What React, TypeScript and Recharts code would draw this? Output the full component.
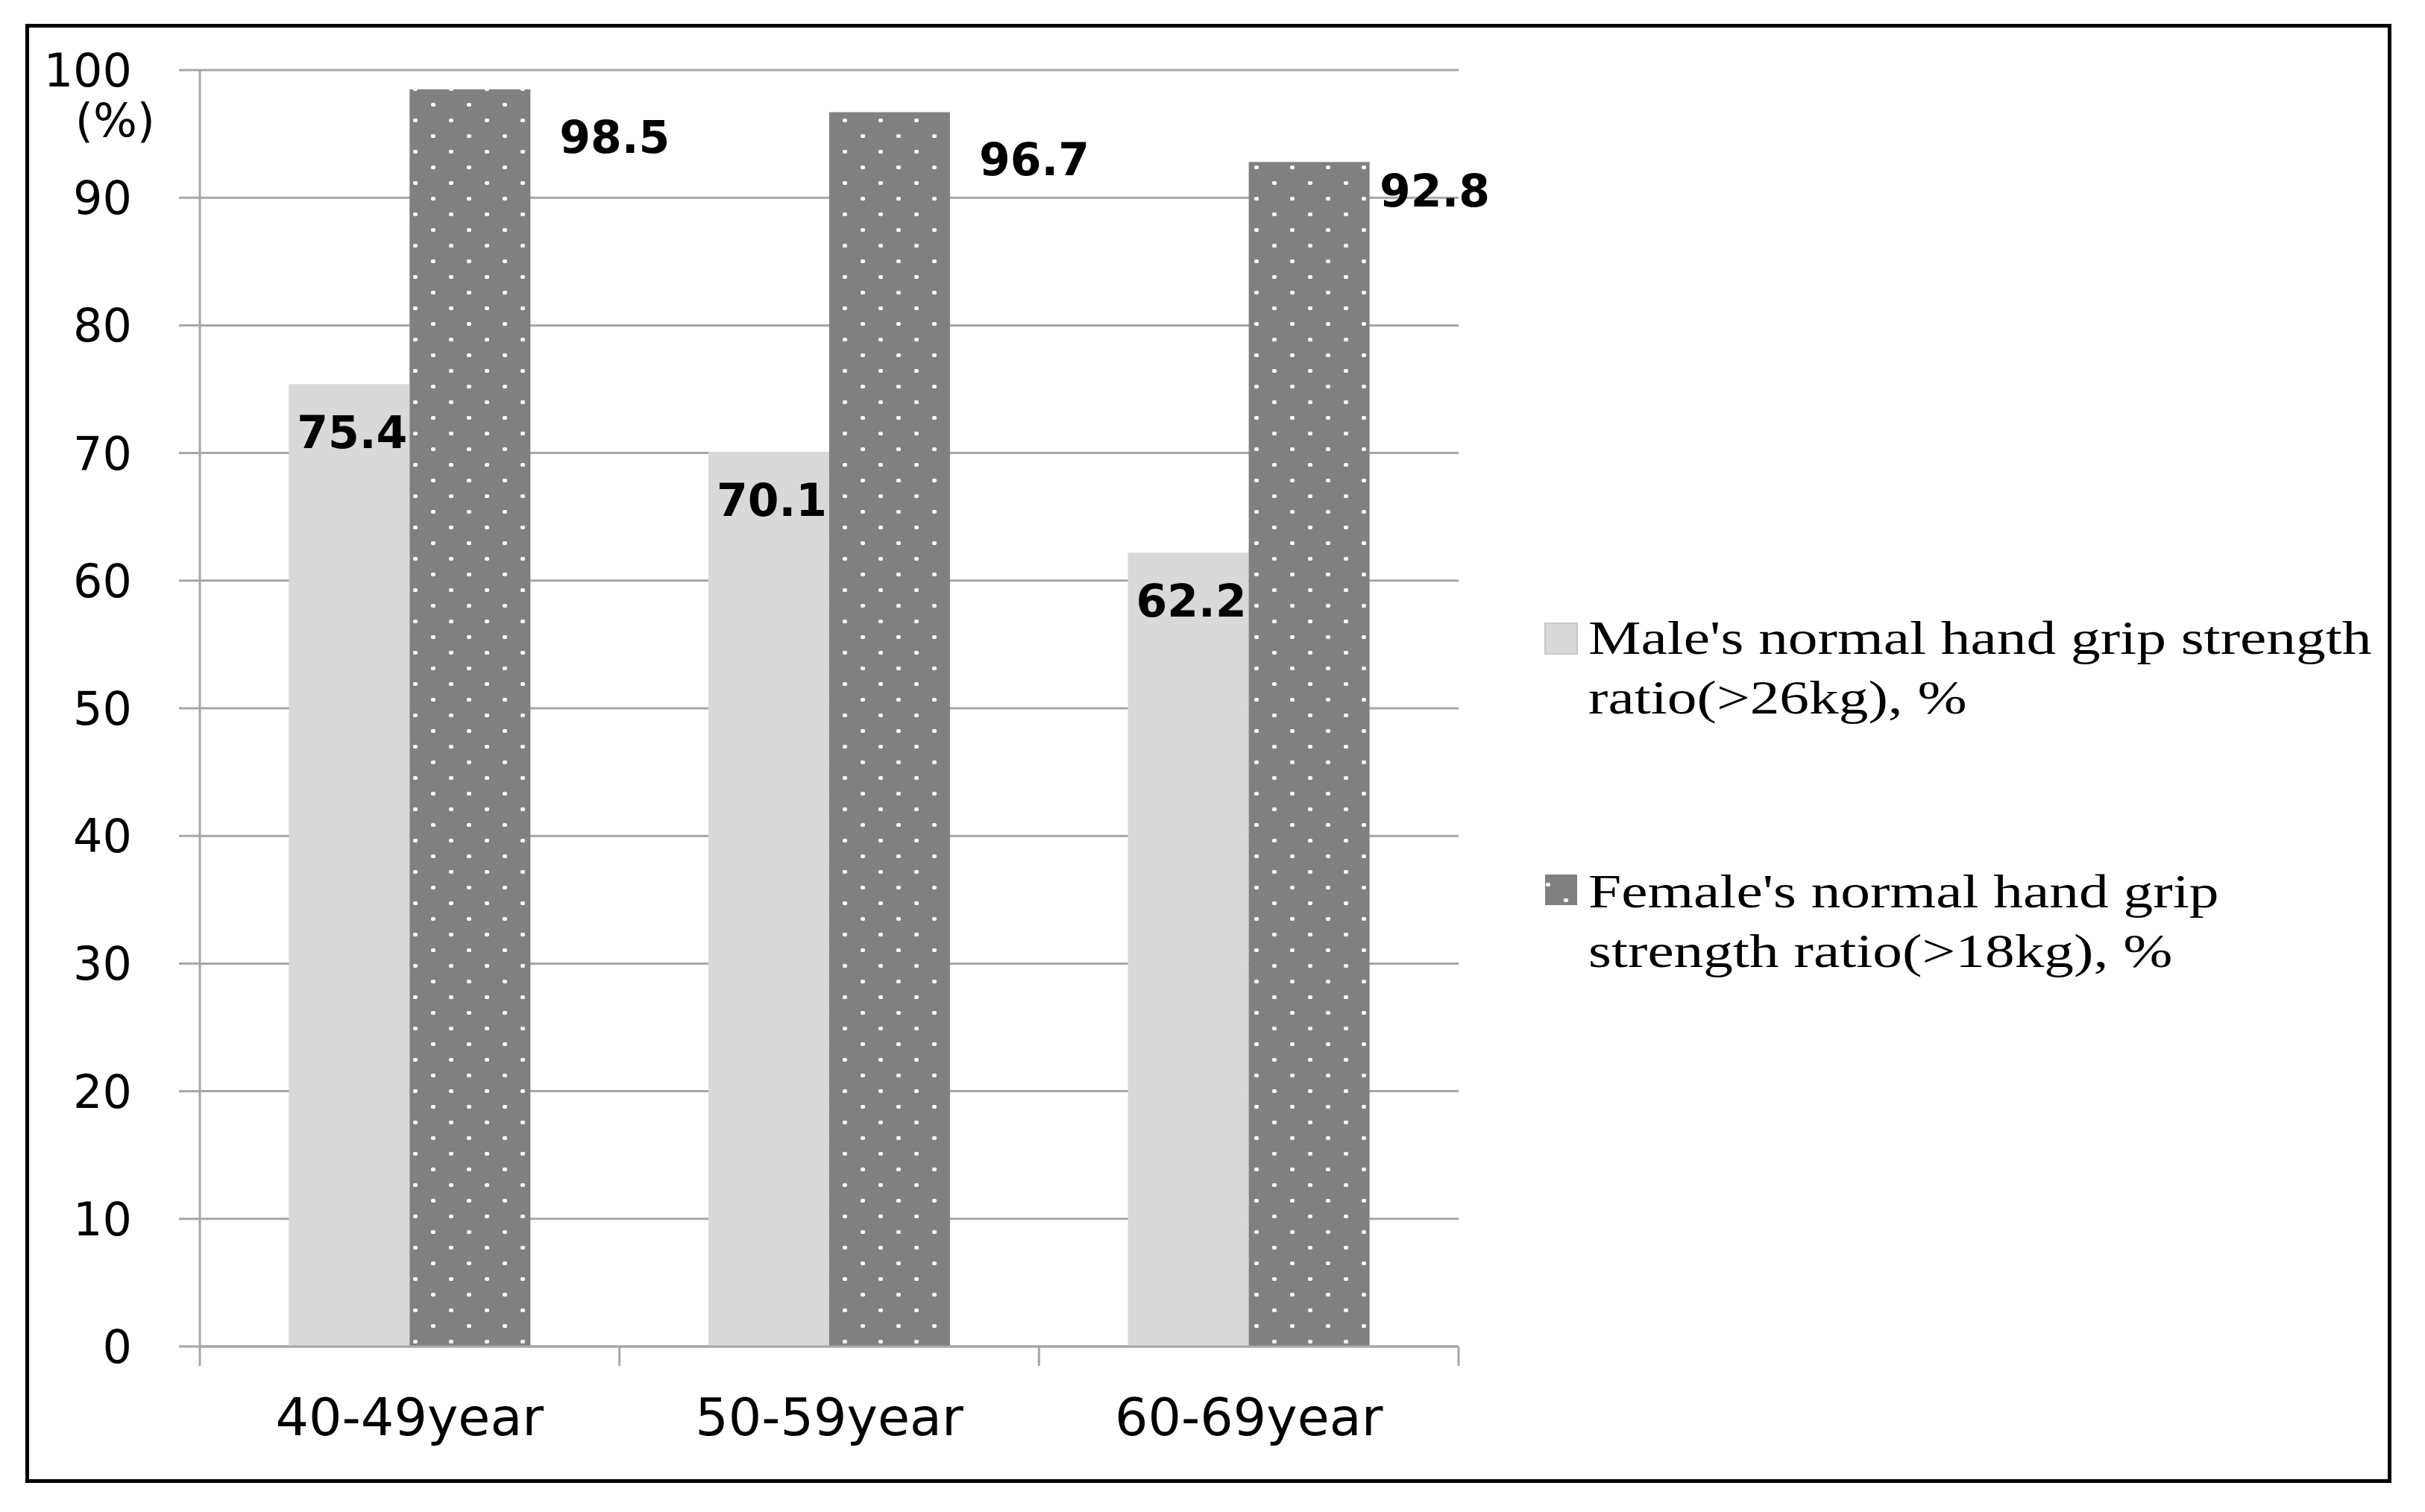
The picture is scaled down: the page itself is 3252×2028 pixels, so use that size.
import React from "react";
import { BarChart, Bar, XAxis, YAxis, CartesianGrid, Legend, LabelList } from "recharts";

// ---------- data ----------
const categories = ["40-49year", "50-59year", "60-69year"];
const maleValues = [75.4, 70.1, 62.2];
const femaleValues = [98.5, 96.7, 92.8];
const yTicks = [0, 10, 20, 30, 40, 50, 60, 70, 80, 90, 100];
const maleLegendLines = ["Male's normal hand grip strength", "ratio(>26kg), %"];
const femaleLegendLines = ["Female's normal hand grip", "strength ratio(>18kg), %"];
const unitLabel = "(%)";

const data = categories.map((c, i) => ({
  category: c,
  male: maleValues[i],
  female: femaleValues[i],
}));

// ---------- layout ----------
const W = 3252;
const H = 2028;
const MARGIN = { top: 94, right: 1296, bottom: 122, left: 0 };
const Y_AXIS_W = 268;
const X_AXIS_H = 100;
const PLOT_LEFT = MARGIN.left + Y_AXIS_W;
const PLOT_RIGHT = W - MARGIN.right;
const BAND = (PLOT_RIGHT - PLOT_LEFT) / categories.length;
const X_TICK = 26;
const GRID = "#a6a6a6";
const MALE_FILL = "#d9d9d9";
const FEMALE_BASE = "#808080";
const SANS = "'DejaVu Sans', Verdana, sans-serif";
const SERIF = "'Liberation Serif', 'Times New Roman', serif";

const XTick = (props: any) => {
  const { x, y, payload, index } = props;
  const axisY = y - X_TICK;
  const half = BAND / 2;
  return (
    <g>
      <line x1={x - half} x2={x - half} y1={axisY} y2={axisY + X_TICK} stroke={GRID} strokeWidth={3} />
      {index === categories.length - 1 && (
        <line x1={x + half} x2={x + half} y1={axisY} y2={axisY + X_TICK} stroke={GRID} strokeWidth={3} />
      )}
      <text x={x} y={axisY + 119} textAnchor="middle" fontFamily={SANS} fontSize={70} fill="#000">
        {payload.value}
      </text>
    </g>
  );
};

const UnitLabel = (p: any) => {
  const vb = p.viewBox || { x: 0, y: MARGIN.top, width: Y_AXIS_W };
  return (
    <text x={vb.x + vb.width - 60} y={vb.y + 89} textAnchor="end" fontFamily={SANS} fontSize={62} fill="#000">
      {unitLabel}
    </text>
  );
};

const MaleLabel = (p: any) => {
  const cx = p.x + p.width / 2 + 4;
  return (
    <text x={cx} y={p.y + 86} textAnchor="middle" fontFamily={SANS} fontWeight="bold" fontSize={60} fill="#000">
      {p.value}
    </text>
  );
};

const FemaleLabel = (p: any) => {
  const right = p.x + p.width;
  const labelW = 148;
  let lx = right + 39;
  let anchor: "start" | "end" = "start";
  let dy = 85;
  if (lx + labelW > PLOT_RIGHT + 42) {
    lx = PLOT_RIGHT + 42;
    anchor = "end";
    dy = 60;
  }
  return (
    <text x={lx} y={p.y + dy} textAnchor={anchor} fontFamily={SANS} fontWeight="bold" fontSize={60} fill="#000">
      {p.value}
    </text>
  );
};

const legendItems = [
  { lines: maleLegendLines, fill: MALE_FILL, top: 0, swTop: 19 },
  { lines: femaleLegendLines, fill: "url(#femaleDots)", top: 340, swTop: 356 },
];

const LegendContent = () => (
  <div style={{ position: "relative", width: 1150, height: 520 }}>
    {legendItems.map((it, i) => (
      <React.Fragment key={i}>
        <svg width={45} height={43} style={{ position: "absolute", left: 0, top: it.swTop }}>
          <rect
            x={1}
            y={1}
            width={43}
            height={41}
            fill={it.fill}
            stroke={i === 0 ? "#c8c8c8" : "none"}
            strokeWidth={2}
          />
        </svg>
        <div
          style={{
            position: "absolute",
            left: 59,
            top: it.top,
            fontFamily: SERIF,
            fontSize: 63,
            lineHeight: "80px",
            color: "#000",
            whiteSpace: "nowrap",
            transform: "scaleX(1.26)",
            transformOrigin: "left top",
          }}
        >
          {it.lines.map((l, j) => (
            <div key={j}>{l}</div>
          ))}
        </div>
      </React.Fragment>
    ))}
  </div>
);

export default function App() {
  return (
    <div style={{ position: "absolute", left: 0, top: 0, width: W, height: H, background: "#fff" }}>
      <BarChart width={W} height={H} data={data} margin={MARGIN} barCategoryGap="21.2%" barGap={0}>
        <defs>
          <pattern id="femaleDots" patternUnits="userSpaceOnUse" width={48} height={42}>
            <rect x={0} y={0} width={48} height={42} fill={FEMALE_BASE} />
            <rect x={26} y={33} width={6} height={5} rx={2} fill="#fff" />
            <rect x={2} y={12} width={6} height={5} rx={2} fill="#fff" />
          </pattern>
        </defs>
        <CartesianGrid vertical={false} horizontal stroke={GRID} strokeWidth={3} />
        <XAxis
          dataKey="category"
          height={X_AXIS_H}
          interval={0}
          tickSize={X_TICK}
          tickMargin={0}
          tickLine={false}
          axisLine={{ stroke: GRID, strokeWidth: 3 }}
          tick={<XTick />}
        />
        <YAxis
          width={Y_AXIS_W}
          domain={[0, 100]}
          ticks={yTicks}
          interval={0}
          tickSize={28}
          tickMargin={63}
          tickLine={{ stroke: GRID, strokeWidth: 3 }}
          axisLine={{ stroke: GRID, strokeWidth: 3 }}
          tick={{ fontFamily: SANS, fontSize: 62, fill: "#000" }}
          label={{ value: unitLabel, content: UnitLabel }}
        />
        <Legend
          layout="vertical"
          align="center"
          verticalAlign="middle"
          wrapperStyle={{ left: 2071, top: 816, width: 1150 }}
          content={LegendContent}
        />
        <Bar dataKey="male" name={maleLegendLines.join(" ")} fill={MALE_FILL} isAnimationActive={false}>
          <LabelList dataKey="male" content={MaleLabel} />
        </Bar>
        <Bar dataKey="female" name={femaleLegendLines.join(" ")} fill="url(#femaleDots)" isAnimationActive={false}>
          <LabelList dataKey="female" content={FemaleLabel} />
        </Bar>
      </BarChart>
      <div
        style={{
          position: "absolute",
          left: 34,
          top: 32,
          width: 3173,
          height: 1957,
          border: "5px solid #000",
          boxSizing: "border-box",
          pointerEvents: "none",
        }}
      />
    </div>
  );
}
